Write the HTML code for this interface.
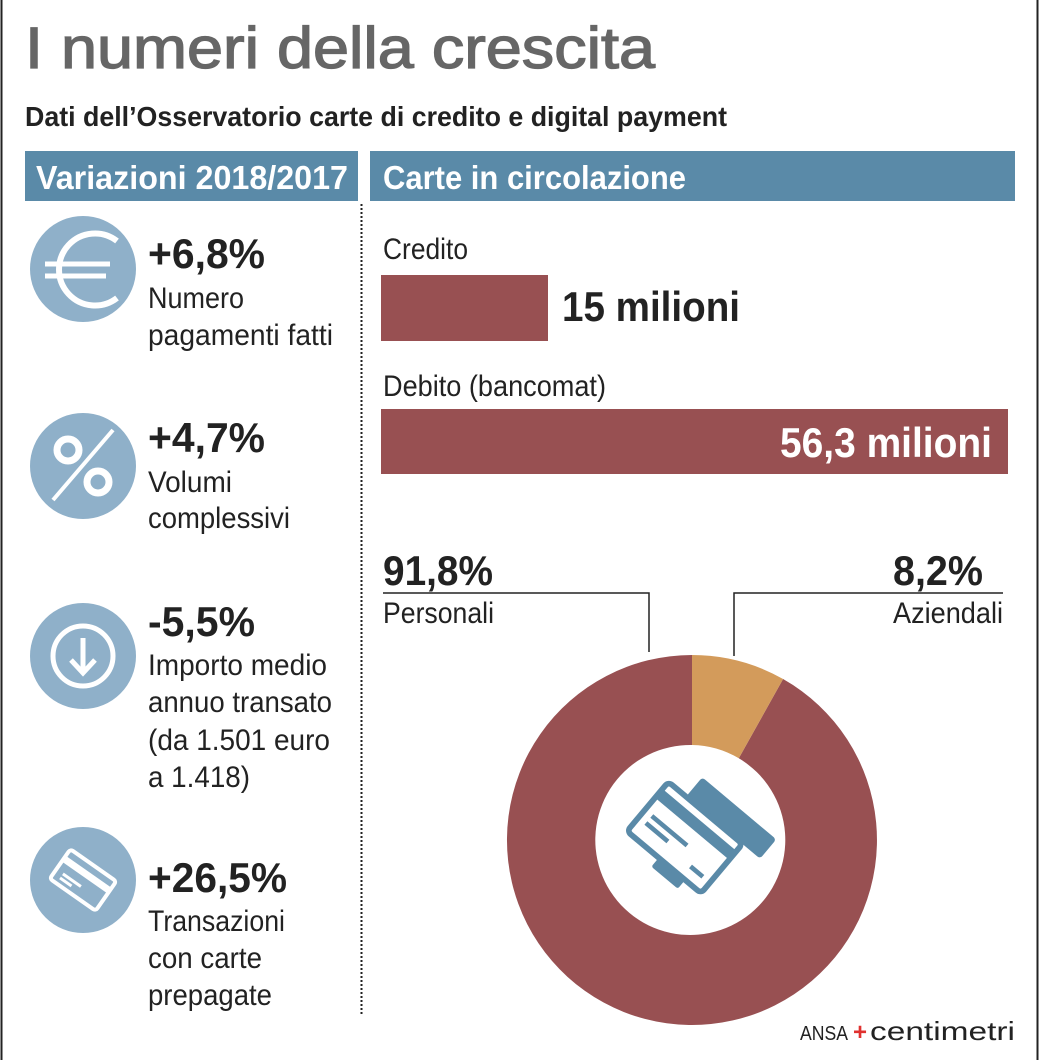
<!DOCTYPE html>
<html><head><meta charset="utf-8"><style>
html,body{margin:0;padding:0;background:#fff}
svg{display:block}
text{font-family:"Liberation Sans",sans-serif}
</style></head><body>
<svg width="1040" height="1060" viewBox="0 0 1040 1060" xmlns="http://www.w3.org/2000/svg">
<rect x="0" y="0" width="1040" height="1060" fill="#fff"/>
<line x1="1.5" y1="0" x2="1.5" y2="1060" stroke="#222" stroke-width="2"/>
<line x1="1037.5" y1="0" x2="1037.5" y2="1060" stroke="#222" stroke-width="2"/>
<text x="25" y="68" font-size="58" fill="#666" stroke="#666" stroke-width="1.3" textLength="630" lengthAdjust="spacingAndGlyphs">I numeri della crescita</text>
<text x="25" y="126" font-size="28" font-weight="bold" fill="#222" textLength="702" lengthAdjust="spacingAndGlyphs">Dati dell’Osservatorio carte di credito e digital payment</text>
<rect x="25" y="151" width="333" height="50" fill="#5a8aa8"/>
<rect x="370" y="151" width="645" height="50" fill="#5a8aa8"/>
<text x="36" y="189" font-size="33" font-weight="bold" fill="#fff" textLength="312" lengthAdjust="spacingAndGlyphs">Variazioni 2018/2017</text>
<text x="383" y="189" font-size="33" font-weight="bold" fill="#fff" textLength="303" lengthAdjust="spacingAndGlyphs">Carte in circolazione</text>
<line x1="361.5" y1="204" x2="361.5" y2="1016" stroke="#222" stroke-width="2" stroke-dasharray="2,2"/>

<g fill="#8fb0c9">
<circle cx="83" cy="269" r="53"/><circle cx="83" cy="466" r="53"/><circle cx="83" cy="656" r="53"/><circle cx="83" cy="880" r="53"/>
</g>
<path d="M117 241 A36 36 0 1 0 117 298" fill="none" stroke="#fff" stroke-width="6"/>
<line x1="45" y1="264" x2="110" y2="264" stroke="#fff" stroke-width="5"/>
<line x1="45" y1="276" x2="106" y2="276" stroke="#fff" stroke-width="5"/>
<circle cx="68" cy="450" r="11" fill="none" stroke="#fff" stroke-width="7"/>
<circle cx="98" cy="482" r="11" fill="none" stroke="#fff" stroke-width="7"/>
<line x1="53" y1="500" x2="113" y2="430" stroke="#fff" stroke-width="4"/>
<circle cx="83" cy="656" r="30" fill="none" stroke="#fff" stroke-width="5"/>
<line x1="83" y1="638" x2="83" y2="672" stroke="#fff" stroke-width="5"/>
<path d="M71 660 L83 673 L95 660" fill="none" stroke="#fff" stroke-width="5"/>
<g transform="translate(83,880) rotate(35)">
<rect x="-28" y="-18" width="56" height="36" rx="3" fill="none" stroke="#fff" stroke-width="4"/>
<rect x="-28" y="-10" width="56" height="7" fill="#fff"/>
<rect x="-20" y="5" width="22" height="3" fill="#fff"/><rect x="-20" y="10" width="14" height="3" fill="#fff"/>
</g>

<g fill="#222">
<text x="148" y="268" font-size="42" font-weight="bold" textLength="117" lengthAdjust="spacingAndGlyphs">+6,8%</text>
<text x="148" y="308" font-size="30" textLength="96" lengthAdjust="spacingAndGlyphs">Numero</text>
<text x="148" y="345" font-size="30" textLength="185" lengthAdjust="spacingAndGlyphs">pagamenti fatti</text>
<text x="148" y="452" font-size="42" font-weight="bold" textLength="117" lengthAdjust="spacingAndGlyphs">+4,7%</text>
<text x="148" y="492" font-size="30" textLength="84" lengthAdjust="spacingAndGlyphs">Volumi</text>
<text x="148" y="528" font-size="30" textLength="142" lengthAdjust="spacingAndGlyphs">complessivi</text>
<text x="148" y="636" font-size="42" font-weight="bold" textLength="107" lengthAdjust="spacingAndGlyphs">-5,5%</text>
<text x="148" y="675" font-size="30" textLength="179" lengthAdjust="spacingAndGlyphs">Importo medio</text>
<text x="148" y="712" font-size="30" textLength="184" lengthAdjust="spacingAndGlyphs">annuo transato</text>
<text x="148" y="750" font-size="30" textLength="182" lengthAdjust="spacingAndGlyphs">(da 1.501 euro</text>
<text x="148" y="787" font-size="30" textLength="102" lengthAdjust="spacingAndGlyphs">a 1.418)</text>
<text x="148" y="892" font-size="42" font-weight="bold" textLength="139" lengthAdjust="spacingAndGlyphs">+26,5%</text>
<text x="148" y="931" font-size="30" textLength="137" lengthAdjust="spacingAndGlyphs">Transazioni</text>
<text x="148" y="968" font-size="30" textLength="114" lengthAdjust="spacingAndGlyphs">con carte</text>
<text x="148" y="1005" font-size="30" textLength="124" lengthAdjust="spacingAndGlyphs">prepagate</text>

<text x="383" y="259" font-size="30" textLength="85" lengthAdjust="spacingAndGlyphs">Credito</text>
<text x="562" y="321" font-size="42" font-weight="bold" textLength="178" lengthAdjust="spacingAndGlyphs">15 milioni</text>
<text x="383" y="396" font-size="30" textLength="223" lengthAdjust="spacingAndGlyphs">Debito (bancomat)</text>
<text x="383" y="585" font-size="42" font-weight="bold" textLength="110" lengthAdjust="spacingAndGlyphs">91,8%</text>
<text x="383" y="623" font-size="30" textLength="111" lengthAdjust="spacingAndGlyphs">Personali</text>
<text x="893" y="585" font-size="42" font-weight="bold" textLength="90" lengthAdjust="spacingAndGlyphs">8,2%</text>
<text x="893" y="623" font-size="30" textLength="110" lengthAdjust="spacingAndGlyphs">Aziendali</text>
<text x="800" y="1040" font-size="20" textLength="48" lengthAdjust="spacingAndGlyphs">ANSA</text>
<text x="870" y="1040" font-size="26" textLength="145" lengthAdjust="spacingAndGlyphs">centimetri</text>
</g>
<text x="853" y="1040" font-size="24" font-weight="bold" fill="#e0312f">+</text>

<rect x="381" y="275" width="167" height="66" fill="#985052"/>
<rect x="381" y="409" width="627" height="65" fill="#985052"/>
<text x="780" y="457" font-size="42" font-weight="bold" fill="#fff" textLength="212" lengthAdjust="spacingAndGlyphs">56,3 milioni</text>

<polyline points="383,593 649,593 649,652" fill="none" stroke="#222" stroke-width="1.5"/>
<polyline points="1003,593 734,593 734,656" fill="none" stroke="#222" stroke-width="1.5"/>

<path d="M692 655 A185 185 0 1 0 783.1 679 L738.8 758.3 A95 95 0 1 1 692 745 Z" fill="#985052"/>
<path d="M692 655 A185 185 0 0 1 783.1 679 L738.8 758.3 A95 95 0 0 0 692 745 Z" fill="#d39b5b"/>

<g transform="translate(690,842) rotate(40) scale(1.15)" fill="#5a8aa8">
<rect x="-28" y="-50" width="84" height="22" rx="3"/>
<rect x="-12" y="18" width="30" height="20" rx="2"/>
<rect x="-48" y="-28" width="84" height="56" rx="4" fill="#fff" stroke="#5a8aa8" stroke-width="5"/>
<rect x="-48" y="-20" width="84" height="10"/>
<rect x="-40" y="2" width="40" height="4"/><rect x="-40" y="10" width="25" height="4"/>
<rect x="14" y="14" width="14" height="4"/>
</g>
</svg>
</body></html>
